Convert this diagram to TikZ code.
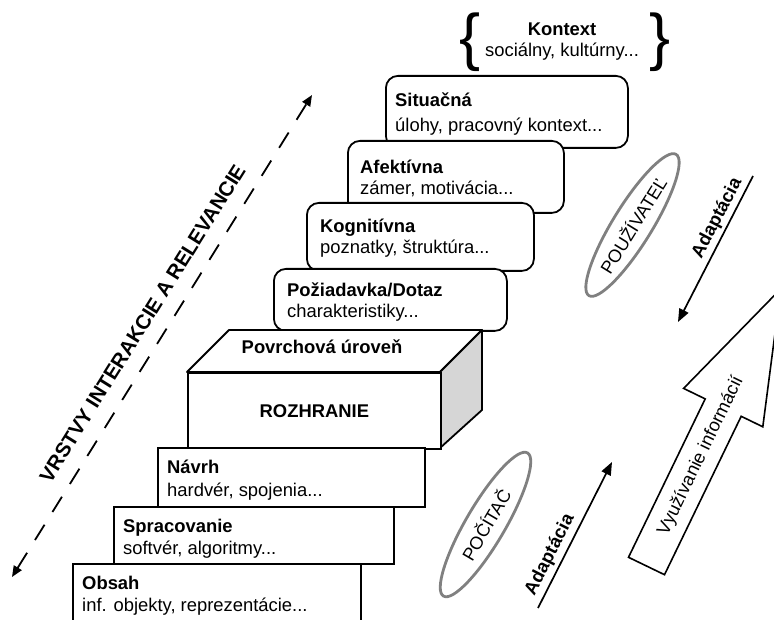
\documentclass[tikz,border=0pt]{standalone}
\usepackage{fontspec}
\setmainfont{Liberation Sans}
\usetikzlibrary{arrows.meta,shapes.geometric}
\definecolor{ellgray}{RGB}{128,128,128}
\definecolor{sidegray}{RGB}{214,214,214}
\begin{document}
\begin{tikzpicture}[x=1pt,y=-1pt,
  ttl/.style={font=\fontsize{18.4}{20}\selectfont\bfseries, anchor=west, inner sep=0pt, text height=13pt, text depth=0pt},
  sub/.style={font=\fontsize{18.4}{20}\selectfont, anchor=west, inner sep=0pt, text height=13pt, text depth=0pt},
  rbox/.style={draw, line width=1.8pt, fill=white, rounded corners=12pt, anchor=north west, inner sep=0pt},
  sbox/.style={draw, line width=1.8pt, fill=white, anchor=north west, inner sep=0pt},
  ell/.style={draw=ellgray, line width=2.8pt, ellipse, inner sep=0pt, minimum width=166pt, minimum height=39pt, font=\fontsize{18}{20}\selectfont},
  arr/.style={line width=1.7pt, -{Triangle[length=13pt,width=10pt]}},
  brace/.style={font=\fontsize{63}{63}\selectfont, inner sep=0pt},
]
\useasboundingbox (0,0) rectangle (774,620);

% Kontext
\node[brace] (lbr) at (470.5,42.5) {\{};
\node[brace] (rbr) at (660.5,42.5) {\}};
\node[ttl, anchor=center] (ktx) at (562,29) {Kontext};
\node[sub, anchor=center] (ktxs) at (562,50) {sociálny, kultúrny...};

% rounded boxes
\node[rbox, minimum width=242pt, minimum height=72pt] (sit) at (385,75) {};
\node[ttl] (sitt) at (395,100) {Situačná};
\node[sub] (sits) at (395,125) {úlohy, pracovný kontext...};

\node[rbox, minimum width=216pt, minimum height=72pt] (afe) at (347,140) {};
\node[ttl] (afet) at (360,167) {Afektívna};
\node[sub] (afes) at (360,188) {zámer, motivácia...};

\node[rbox, minimum width=227pt, minimum height=68pt] (kog) at (306,202) {};
\node[ttl] (kogt) at (320,226) {Kognitívna};
\node[sub] (kogs) at (320,247) {poznatky, štruktúra...};

\node[rbox, minimum width=233pt, minimum height=62pt] (poz) at (273,268) {};
\node[ttl] (pozt) at (287,290) {Požiadavka/Dotaz};
\node[sub] (pozs) at (287,311) {charakteristiky...};

% 3D box
\draw[fill=white, line width=1.8pt, line join=round] (187,372) -- (229,330) -- (482,330) -- (440,372) -- cycle;
\draw[fill=sidegray, line width=1.8pt, line join=round] (440,372) -- (482,330) -- (482,410) -- (440,448) -- cycle;
\node[ttl, anchor=center] (surf) at (322,347) {Povrchová úroveň};
\node[sbox, minimum width=253pt, minimum height=76pt, font=\fontsize{18.4}{20}\selectfont\bfseries] (front) at (187,372) {ROZHRANIE};

% lower boxes
\node[sbox, minimum width=288pt, minimum height=80pt] (obs) at (72,563) {};
\node[ttl] (obst) at (82,583) {Obsah};
\node[sub] (obss) at (82,605) {inf. objekty, reprezentácie...};

\node[sbox, minimum width=280pt, minimum height=57pt] (spr) at (113,506) {};
\node[ttl] (sprt) at (123,526) {Spracovanie};
\node[sub] (sprs) at (123,548) {softvér, algoritmy...};

\node[sbox, minimum width=267pt, minimum height=59pt] (nav) at (157,447) {};
\node[ttl] (navt) at (167,467) {Návrh};
\node[sub] (navs) at (167,490) {hardvér, spojenia...};

% dashed double arrow
\coordinate (dlo) at (12,577);
\coordinate (dhi) at (312,95);
\draw[line width=1.8pt, dash pattern=on 18pt off 15pt,
  {Triangle[length=11pt,width=9pt]}-{Triangle[length=11pt,width=9pt]}] (dlo) -- (dhi);
\node[font=\fontsize{20.5}{22}\selectfont\bfseries, rotate=58, inner sep=0pt] (vrl) at (142.5,323.5) {VRSTVY INTERAKCIE A RELEVANCIE};

% ellipses
\node[ell, rotate=58.3] (usr) at (632.5,225) {POUŽÍVATEĽ};
\node[ell, rotate=59.6] (pc) at (485.5,524.5) {POČÍTAČ};

% adaptation arrows
\coordinate (a1s) at (538,608);
\coordinate (a1e) at (612,462);
\draw[arr] (a1s) -- (a1e);
\node[ttl, anchor=center, rotate=63] (a1t) at (548.5,554) {Adaptácia};

\coordinate (a2s) at (753,176);
\coordinate (a2e) at (678,322);
\draw[arr] (a2s) -- (a2e);
\node[ttl, anchor=center, rotate=62.5] (a2t) at (715.8,217.5) {Adaptácia};

% big hollow arrow
\draw[line width=1.6pt, fill=white, line join=miter]
  (628.5,557.3) -- (705.2,398.9) -- (683.6,388.4) -- (780.8,288.8)
  -- (762.8,426.8) -- (741.2,416.3) -- (664.5,574.7) -- cycle;
\node[sub, anchor=center, rotate=64.2] (vyu) at (699.5,455) {Využívanie informácií};
\end{tikzpicture}
\end{document}
